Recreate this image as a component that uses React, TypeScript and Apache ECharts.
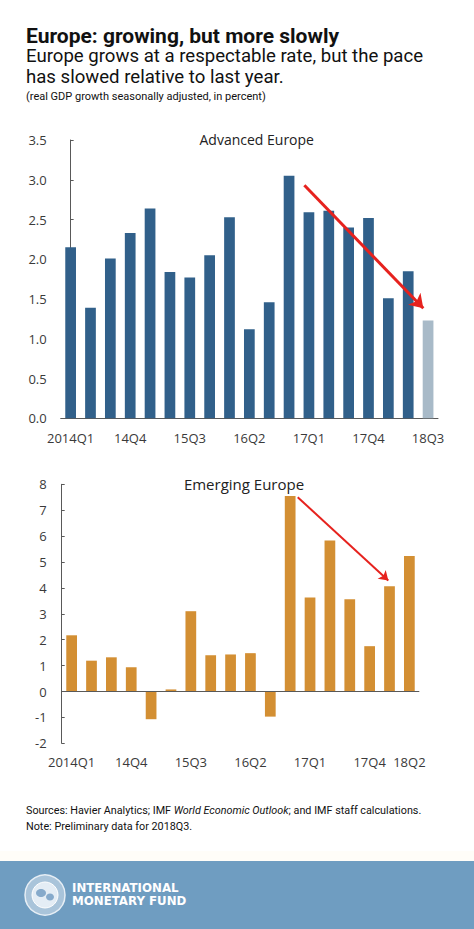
import React, { useEffect, useRef } from "react";
import * as echarts from "echarts";

const advCategories = ["2014Q1", "14Q2", "14Q3", "14Q4", "15Q1", "15Q2", "15Q3", "15Q4", "16Q1", "16Q2", "16Q3", "16Q4", "17Q1", "17Q2", "17Q3", "17Q4", "18Q1", "18Q2", "18Q3"];
const advValues = [2.15, 1.39, 2.01, 2.33, 2.64, 1.84, 1.77, 2.05, 2.53, 1.12, 1.46, 3.05, 2.59, 2.61, 2.4, 2.52, 1.51, 1.85, 1.23];
const advPreliminary = [false, false, false, false, false, false, false, false, false, false, false, false, false, false, false, false, false, false, true];
const advArrow = [[11.77, 2.93], [17.76, 1.385]];

const emCategories = ["2014Q1", "14Q2", "14Q3", "14Q4", "15Q1", "15Q2", "15Q3", "15Q4", "16Q1", "16Q2", "16Q3", "16Q4", "17Q1", "17Q2", "17Q3", "17Q4", "18Q1", "18Q2"];
const emValues = [2.17, 1.19, 1.32, 0.94, -1.07, 0.08, 3.1, 1.4, 1.43, 1.48, -0.97, 7.55, 3.63, 5.83, 3.56, 1.75, 4.06, 5.23];
const emArrow = [[11.38, 7.5], [15.94, 4.29]];

const TICK_FONT = "'Open Sans', sans-serif";
const HEAD_FONT = "Roboto, sans-serif";
const AXIS_COLOR = "#595959";
const LABEL_COLOR = "#3a3a3a";
const ADV_COLOR = "#31608a";
const ADV_PRELIM = "#a8bac8";
const EM_COLOR = "#d38f33";
const ARROW_RED = "#e6221e";

export default function App() {
  const ref = useRef<HTMLDivElement>(null);
  useEffect(() => {
    if (!ref.current) return;
    const chart = echarts.init(ref.current, null, { renderer: "svg" });
    const labelStyle = { fontSize: 13, color: LABEL_COLOR, fontFamily: TICK_FONT };
    const option: any = {
      animation: false,
      backgroundColor: "#ffffff",
      grid: [
        { left: 60.7, top: 140, width: 377.3, height: 278.3 },
        { left: 61.7, top: 484.3, width: 357.6, height: 259 },
      ],
      xAxis: [
        {
          gridIndex: 0, type: "category", data: advCategories,
          axisLine: { lineStyle: { color: AXIS_COLOR, width: 1 } },
          axisTick: { show: false },
          axisLabel: { ...labelStyle, interval: 2, margin: 13 },
        },
        { gridIndex: 0, type: "value", min: -0.5, max: advCategories.length - 0.5, show: false },
        {
          gridIndex: 1, type: "category", data: emCategories,
          axisLine: { show: false, onZero: false },
          axisTick: { show: false },
          axisLabel: {
            ...labelStyle, margin: 12,
            interval: (i: number) => i % 3 === 0 || i === emCategories.length - 1,
          },
        },
        { gridIndex: 1, type: "value", min: -0.5, max: emCategories.length - 0.5, show: false },
      ],
      yAxis: [
        {
          gridIndex: 0, type: "value", min: 0, max: 3.5, interval: 0.5,
          splitLine: { show: false },
          axisLine: { show: true, lineStyle: { color: AXIS_COLOR, width: 1 } },
          axisTick: { show: true, inside: true, length: 3, lineStyle: { color: AXIS_COLOR } },
          axisLabel: { ...labelStyle, margin: 14, formatter: (v: number) => v.toFixed(1) },
        },
        {
          gridIndex: 1, type: "value", min: -2, max: 8, interval: 1,
          splitLine: { show: false },
          axisLine: { show: true, onZero: false, lineStyle: { color: AXIS_COLOR, width: 1 } },
          axisTick: { show: true, inside: true, length: 3, lineStyle: { color: AXIS_COLOR } },
          axisLabel: { ...labelStyle, margin: 15 },
        },
      ],
      series: [
        {
          type: "bar", xAxisIndex: 0, yAxisIndex: 0, barWidth: "54%",
          data: advValues.map((v, i) => ({
            value: v,
            itemStyle: { color: advPreliminary[i] ? ADV_PRELIM : ADV_COLOR },
          })),
        },
        {
          type: "lines", coordinateSystem: "cartesian2d", xAxisIndex: 1, yAxisIndex: 0,
          symbol: ["none", "arrow"], symbolSize: 13, z: 5, silent: true,
          lineStyle: { color: ARROW_RED, width: 3, opacity: 1, curveness: 0 },
          data: [{ coords: advArrow }],
        },
        {
          type: "bar", xAxisIndex: 2, yAxisIndex: 1, barWidth: "54%",
          itemStyle: { color: EM_COLOR },
          data: emValues,
          markLine: {
            silent: true, symbol: "none", label: { show: false },
            lineStyle: { color: AXIS_COLOR, width: 1, type: "solid" },
            data: [{ yAxis: 0 }],
          },
        },
        {
          type: "lines", coordinateSystem: "cartesian2d", xAxisIndex: 3, yAxisIndex: 1,
          symbol: ["none", "arrow"], symbolSize: 9, z: 5, silent: true,
          lineStyle: { color: ARROW_RED, width: 2, opacity: 1, curveness: 0 },
          data: [{ coords: emArrow }],
        },
      ],
      graphic: [
        { type: "text", left: 26, top: 25, style: { text: "Europe: growing, but more slowly", font: `bold 21px ${HEAD_FONT}`, fill: "#111111", lineHeight: 21 } },
        {
          type: "text", left: 26, top: 46,
          style: {
            text: "Europe grows at a respectable rate, but the pace\nhas slowed relative to last year.",
            font: `18.6px ${HEAD_FONT}`, fill: "#111111", lineHeight: 20.5,
          },
        },
        { type: "text", left: 26, top: 91, style: { text: "(real GDP growth seasonally adjusted, in percent)", font: `11px ${HEAD_FONT}`, fill: "#111111" } },
        { type: "text", x: 256.7, y: 139.5, style: { text: "Advanced Europe", font: `14px ${TICK_FONT}`, fill: "#222222", align: "center", verticalAlign: "middle" } },
        { type: "text", x: 244, y: 484, style: { text: "Emerging Europe", font: `15px ${TICK_FONT}`, fill: "#222222", align: "center", verticalAlign: "middle" } },
        {
          type: "text", left: 26, top: 805,
          style: {
            text: "{a|Sources: Havier Analytics; IMF }{i|World Economic Outlook}{a|; and IMF staff calculations.}",
            rich: {
              a: { font: `10.8px ${HEAD_FONT}`, fill: "#111111" },
              i: { font: `italic 10.8px ${HEAD_FONT}`, fill: "#111111" },
            },
          },
        },
        { type: "text", left: 26, top: 821, style: { text: "Note: Preliminary data for 2018Q3.", font: `10.8px ${HEAD_FONT}`, fill: "#111111" } },
        { type: "rect", shape: { x: 0, y: 851, width: 474, height: 10 }, style: { fill: "#fffdf8" } },
        { type: "rect", shape: { x: 0, y: 861, width: 474, height: 68 }, style: { fill: "#6f9dc1" } },
        { type: "circle", shape: { cx: 45, cy: 895, r: 20 }, style: { fill: "#a9c4da", stroke: "#e6eef5", lineWidth: 1.5 } },
        { type: "circle", shape: { cx: 45, cy: 895, r: 13 }, style: { fill: "#e4edf5", stroke: "#ffffff", lineWidth: 1 } },
        { type: "ellipse", shape: { cx: 41, cy: 893, rx: 5, ry: 4 }, style: { fill: "#86aacb" } },
        { type: "ellipse", shape: { cx: 50, cy: 897, rx: 4, ry: 3.5 }, style: { fill: "#86aacb" } },
        {
          type: "text", left: 72, top: 881,
          style: { text: "INTERNATIONAL\nMONETARY FUND", font: `bold 11.8px 'DejaVu Sans', sans-serif`, fill: "#ffffff", lineHeight: 13.5 },
        },
      ],
    };
    chart.setOption(option);
    return () => chart.dispose();
  }, []);
  return (
    <div
      ref={ref}
      style={{ position: "absolute", left: 0, top: 0, width: 474, height: 929, background: "#ffffff" }}
    />
  );
}
